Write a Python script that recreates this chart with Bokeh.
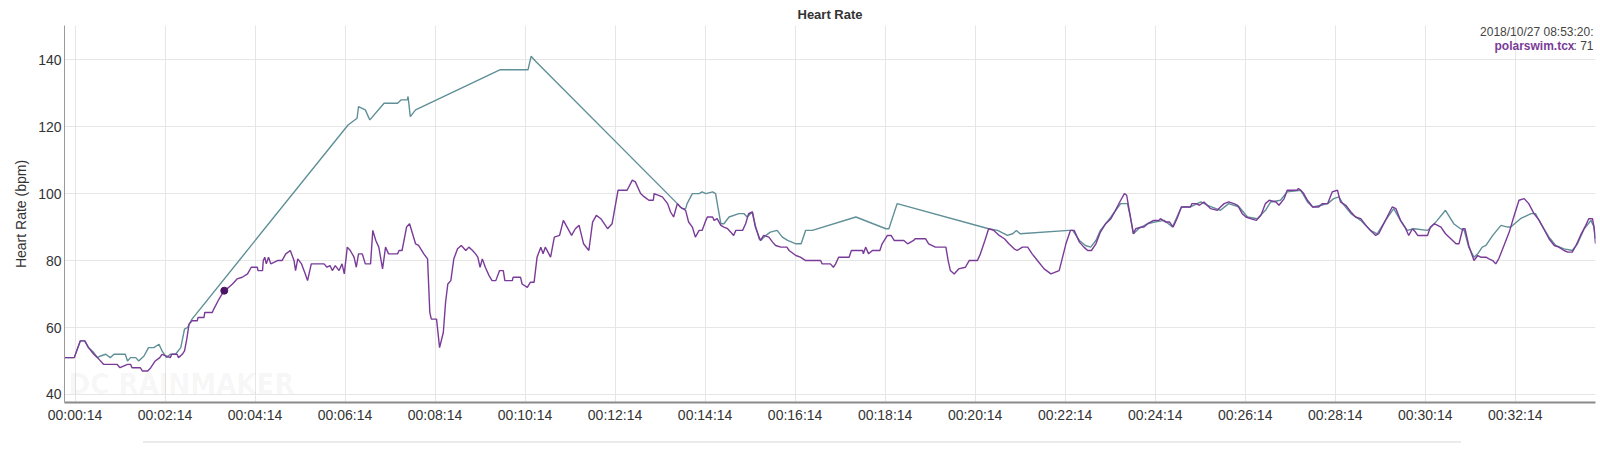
from bokeh.plotting import figure
from bokeh.models import Range1d, FixedTicker, Label, Div
from bokeh.layouts import column
from bokeh.embed import file_html
from bokeh.resources import INLINE

# ---------------- data ----------------
polar_t = [0, 13, 21, 27, 32, 39, 44, 52, 70, 74, 84, 88, 90, 101, 104, 111, 115, 121, 127, 130, 141, 143, 150, 152, 157, 160,
           163, 166, 170, 177, 178, 186, 187, 197, 199, 206, 210, 213, 219, 224, 230, 237, 244, 249, 257, 258, 264, 265, 267,
           269, 272, 275, 284, 290, 295, 301, 306, 308, 311, 316, 321, 324, 329, 346, 350, 354, 357, 361, 366, 370, 373, 377,
           381, 386, 389, 392, 397, 401, 408, 411, 415, 419, 424, 428, 432, 444, 446, 450, 456, 460, 464, 468, 472, 479, 484,
           487, 489, 496, 500, 505, 508, 511, 515, 519, 524, 529, 535, 539, 544, 548, 551, 554, 557, 561, 566, 570, 575, 580,
           585, 587, 597, 598, 608, 610, 617, 621, 626, 630, 635, 638, 641, 648, 653, 660, 665, 670, 676, 681, 686, 692, 699,
           704, 709, 715, 724, 730, 738, 742, 750, 757, 761, 768, 773, 779, 785, 786, 797, 804, 808, 812, 817, 821,
           828, 832, 837, 841, 846, 850, 855, 857, 864, 866, 870, 875, 879, 884, 888, 892, 895, 904, 908, 912, 917, 921, 926,
           928, 932, 939, 944, 948, 955, 963, 966, 975, 981, 988, 1008, 1010, 1021, 1025, 1028, 1032, 1046, 1049, 1064, 1065,
           1068, 1072, 1077, 1087, 1090, 1097, 1102, 1106, 1119, 1124, 1132, 1134, 1148, 1152, 1161, 1175, 1178, 1181, 1186,
           1192, 1201, 1206, 1217, 1221, 1227, 1232,
           1239, 1246, 1253, 1259, 1266, 1270, 1277, 1284, 1290, 1297, 1306, 1315, 1326, 1330, 1335, 1341, 1346, 1353, 1359,
           1364, 1369, 1375, 1381, 1388, 1395, 1401, 1408, 1413, 1416, 1421, 1425, 1428, 1435, 1439, 1444, 1452, 1459, 1461,
           1468, 1473, 1478, 1483, 1489, 1501, 1503, 1509, 1513, 1519, 1528, 1537, 1541, 1546, 1552, 1559, 1564, 1570, 1575,
           1581, 1589, 1595, 1601, 1606, 1615, 1619, 1626, 1630, 1643, 1645,
           1648, 1652, 1657, 1664, 1672, 1677, 1684, 1690, 1697, 1701, 1708, 1715, 1721, 1728, 1735, 1741, 1748, 1752, 1761,
           1770, 1775, 1781, 1788, 1792, 1797, 1801, 1804, 1817, 1821, 1826, 1835, 1841, 1848, 1855, 1859, 1864, 1867, 1872,
           1879, 1884, 1888, 1895, 1899, 1904, 1908, 1912, 1919, 1926, 1932, 1939, 1946, 1952, 1959, 1966, 1972, 1979, 1986,
           1992, 1999, 2004, 2010, 2015, 2021, 2028, 2032, 2037, 2039, 2041]
polar_bpm = [51, 51, 56, 56, 54, 52, 51, 49, 49, 48, 49, 49, 48, 48, 47, 47, 48, 50, 51, 52, 51, 52, 52, 51, 52, 53,
             56.5, 61, 62, 62, 63, 63, 64.5, 64.5, 65.5, 68.5, 70, 71, 72, 73, 74.5, 75, 76, 78, 78, 77, 77, 80, 81,
             79, 81, 79, 80, 80, 82, 83, 80, 77, 80.5, 79, 76, 74, 79, 79, 78, 78.5, 77, 78.5, 77, 79, 76, 84,
             83, 81, 78, 82, 82, 79, 79, 89, 86, 84, 77.5, 84, 82, 82, 83, 83, 90, 91, 88, 85, 84.5, 82, 80.5,
             64.5, 62.5, 62.5, 54, 58.5, 67.5, 73, 74, 80.5, 83.5, 84.5, 83, 84, 83, 82, 81, 78, 80.5, 78, 75.5, 74, 74, 77,
             77, 74, 74, 75, 75, 73, 72, 73.5, 73.5, 81, 84, 82, 84, 81, 87, 87.5, 92, 90, 87.5, 89.5, 90.5, 85, 83,
             91.5, 93.5, 92.5, 89.5, 91, 101, 101, 101, 104, 103.5, 100, 99, 98, 98, 100, 99, 97, 94.5, 93, 97, 96,
             95, 91.5, 90, 87, 89, 89, 92, 93, 93, 92, 92.5, 90.5, 90, 89.5, 88.5, 87.5, 89, 89, 91, 94, 94.5, 90, 87,
             86, 87.5, 87, 85.5, 84.5, 84, 84, 83, 81.5, 81, 80, 80, 79, 79, 78, 79, 81, 81, 83, 83, 82,
             84, 82, 83, 83, 85, 87.5, 87.5, 86, 86, 85, 86, 86.5, 86.5, 85, 84, 84, 80, 77, 76,
             77.5, 78, 80, 80, 82, 86, 89.5,
             89, 87.5, 86.5, 85, 83.5, 83, 84, 84, 82, 80, 77.5, 76, 77, 80.5, 85, 89, 89, 85.5, 84,
             83, 83, 85, 88.5, 91, 92.5, 95, 98, 100, 99.5, 93, 88, 89.5, 90, 90, 91, 92, 92, 92.5,
             91.5, 91.5, 90, 92.5, 96, 96, 97, 97, 96.5, 97.5, 95.5, 95, 96, 97, 97.5, 97, 96.5, 94, 93,
             92.5, 92, 93.5, 97, 98, 97.5, 96.5, 98.5, 101, 101, 101.5,
             101, 100, 98, 96, 96, 97, 97, 100.5, 101, 97.5, 96.5, 94.5, 93, 92.5, 90.5, 89, 87.5, 88, 92,
             96, 95.5, 92, 89.5, 87.5, 89.5, 88.5, 87.5, 87.5, 90, 91, 90, 88, 86.5, 85, 85, 89.5, 89.5, 84.5,
             80, 81.5, 81, 81, 80.5, 80, 79, 80.5, 84.5, 88.5, 93, 98, 98.5, 97, 94, 92, 89.5, 86.5, 84.5,
             84, 83, 82.5, 82.5, 84.5, 87.5, 90.5, 92.5, 92.5, 90, 85]

other_t = [0, 13, 21, 27, 32, 39, 44, 48, 55, 61, 66, 81, 84, 88, 95, 99, 106, 112, 119, 126, 130, 136, 141, 148, 155, 160,
           164, 170, 378, 390, 392, 401, 407, 426, 444, 449, 457, 458, 461, 468, 581, 618, 622, 628, 817, 823, 828, 830,
           837, 846, 850, 855, 864, 868, 871, 875, 879, 886, 899, 906, 910, 917, 921, 926, 928, 935, 941, 950, 957, 964,
           975, 982, 988, 997, 1055, 1095, 1099, 1110, 1232, 1244, 1257, 1264, 1269, 1274, 1339, 1344, 1353, 1361, 1368,
           1375, 1381, 1395, 1408, 1417, 1421, 1425, 1432, 1444, 1453, 1466, 1477, 1489, 1501, 1515, 1524, 1541, 1552,
           1566, 1577, 1590, 1601, 1608, 1621, 1630, 1648, 1657, 1664, 1675, 1684, 1692, 1699, 1704, 1715, 1728, 1741,
           1750, 1761, 1772, 1781, 1790, 1799, 1817, 1824, 1830, 1841, 1852, 1861, 1866, 1872, 1879, 1884, 1890, 1895,
           1904, 1915, 1924, 1928, 1941, 1955, 1961, 1968, 1979, 1988, 1999, 2010, 2017, 2026, 2035, 2039, 2041]
other_bpm = [51, 51, 56, 56, 54, 52.5, 51, 51.5, 52, 51, 52, 52, 50, 51, 51, 50, 51.5, 54, 54, 55, 53, 51, 52, 52, 54, 59.5,
             60, 62.5, 120.5, 122.5, 126, 125, 122, 127, 127, 128, 128, 129, 123, 125, 137, 137, 141, 139.5, 97, 95.5, 95.5, 97,
             100, 100, 100.5, 100, 100.5, 100, 96, 91, 91, 93, 94, 94, 93, 94.5, 90.5, 86.5, 86, 87.5, 88.5, 89, 87, 86,
             85, 85, 89, 89, 93, 89.5, 89.5, 97, 89.5, 89, 87.5, 88, 89, 88, 89, 89, 86, 84.5, 84,
             86, 89, 93, 97, 97, 93, 88, 89.5, 91, 91.5, 92, 90, 96, 96, 97.5, 96.5, 95, 97,
             96, 93, 92.5, 95, 97.5, 98, 100.5, 101, 97.5, 96, 96.5, 97, 98.5, 99, 97, 94, 92, 89,
             88, 92, 95.5, 92, 89, 89.5, 89, 90.5, 92, 95, 91, 89.5, 89, 84, 81, 82, 84, 84.5,
             87.5, 90.5, 90, 90, 92.5, 94, 94, 91, 87, 84.5, 83.5, 83, 85, 89.5, 92, 90, 86.5]

highlight_t = [213]
highlight_bpm = [71]

x_tick_labels = ["00:00:14", "00:02:14", "00:04:14", "00:06:14", "00:08:14", "00:10:14", "00:12:14", "00:14:14",
                 "00:16:14", "00:18:14", "00:20:14", "00:22:14", "00:24:14", "00:26:14", "00:28:14", "00:30:14",
                 "00:32:14"]
y_ticks = [40, 60, 80, 100, 120, 140]

title_text = "Heart Rate"
y_label = "Heart Rate (bpm)"
hover_time = "2018/10/27 08:53:20:"
hover_file = "polarswim.tcx"
hover_value = ": 71"
watermark = "DC RAINMAKER"

# ---------------- styles ----------------
PURPLE = "#7a3b98"
TEAL = "#5f8f97"
DOT = "#4b1466"
FONT = "Liberation Sans"
X_END = 2041
Y_START, Y_END = 37.6, 150.2


def secs(label):
    h, m, s = (int(v) for v in label.split(":"))
    return h * 3600 + m * 60 + s


x_ticks = [secs(l) for l in x_tick_labels]

p = figure(width=1600, height=432, output_backend="svg", toolbar_location=None,
           x_range=Range1d(0, X_END), y_range=Range1d(Y_START, Y_END),
           min_border_left=64, min_border_right=5, min_border_top=23, min_border_bottom=30,
           title=title_text)
p.title.align = "center"
p.title.text_font = FONT
p.title.text_font_size = "13px"
p.title.text_font_style = "bold"
p.title.text_color = "#333333"
p.title.standoff = 8
p.outline_line_color = None
p.background_fill_color = "white"
p.border_fill_color = "white"

p.xaxis.ticker = FixedTicker(ticks=x_ticks)
p.xaxis.major_label_overrides = {t: l for t, l in zip(x_ticks, x_tick_labels)}
p.yaxis.ticker = FixedTicker(ticks=y_ticks)
for ax in (p.xaxis, p.yaxis):
    ax.major_tick_line_color = None
    ax.major_tick_out = 0
    ax.major_tick_in = 0
    ax.minor_tick_line_color = None
    ax.minor_tick_out = 0
    ax.minor_tick_in = 0
    ax.major_label_text_font = FONT
    ax.major_label_text_font_size = "14px"
    ax.major_label_text_color = "#333333"
p.xaxis.axis_line_color = "#8a8a8a"
p.xaxis.axis_line_width = 2
p.xaxis.major_label_standoff = 4
p.yaxis.axis_line_color = "#9a9a9a"
p.yaxis.axis_line_width = 1
p.yaxis.major_label_standoff = 3
p.yaxis.axis_label = y_label
p.yaxis.axis_label_text_font = FONT
p.yaxis.axis_label_text_font_size = "14px"
p.yaxis.axis_label_text_font_style = "normal"
p.yaxis.axis_label_text_color = "#333333"
p.yaxis.axis_label_standoff = 6

p.xgrid.grid_line_color = "#e6e6e6"
p.ygrid.grid_line_color = "#e6e6e6"

p.add_layout(Label(x=0, y=Y_START, x_offset=4, y_offset=2, text=watermark,
                   text_font="Liberation Sans Narrow, DejaVu Sans Condensed, sans-serif",
                   text_font_size="29px", text_font_style="bold", text_color="#000000",
                   text_alpha=0.045, text_baseline="bottom", level="underlay"))

p.line(other_t, other_bpm, line_color=TEAL, line_width=1.4)
p.line(polar_t, polar_bpm, line_color=PURPLE, line_width=1.4)
p.scatter(highlight_t, highlight_bpm, size=7, color=DOT)

p.add_layout(Label(x=X_END, y=Y_END, x_offset=-2, y_offset=-6, text=hover_time, text_align="right",
                   text_baseline="middle", text_font=FONT, text_font_size="12px", text_color="#444444"))
p.add_layout(Label(x=X_END, y=Y_END, x_offset=-2, y_offset=-20, text=hover_value, text_align="right",
                   text_baseline="middle", text_font=FONT, text_font_size="12px", text_color="#444444"))
p.add_layout(Label(x=X_END, y=Y_END, x_offset=-21, y_offset=-20, text=hover_file, text_align="right",
                   text_baseline="middle", text_font=FONT, text_font_size="12px", text_font_style="bold",
                   text_color=PURPLE))

bar = Div(text="", width=1318, height=2, margin=(9, 0, 0, 143),
          styles={"background-color": "#ebebeb"})

layout = column(p, bar, spacing=0)
open("out.html", "w").write(file_html(layout, INLINE))
